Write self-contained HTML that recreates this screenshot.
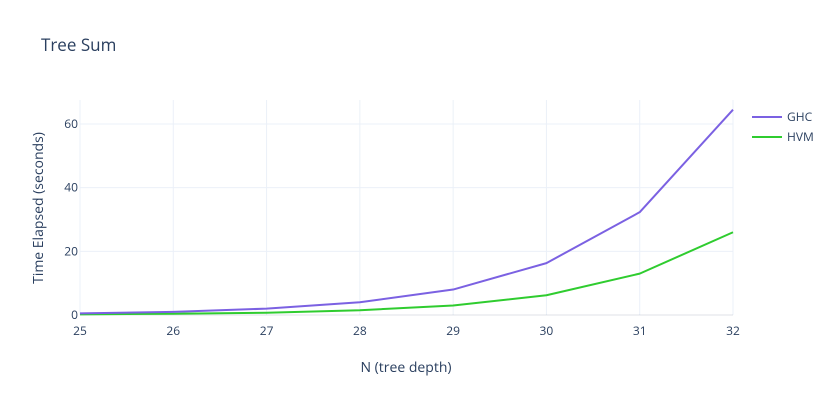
<!DOCTYPE html>
<html><head><meta charset="utf-8"><style>
body{margin:0;background:#fff;font-family:"Liberation Sans","DejaVu Sans",sans-serif;}
svg text{font-family:"Open Sans","Liberation Sans",sans-serif;fill:#2a3f5f;}
</style></head><body>
<svg id="chart" width="830" height="400">
<rect width="830" height="400" fill="#fff"/>
<text x="41" y="51" font-size="17">Tree Sum</text>
<g id="grid"></g>
<g id="marks"></g>
<g id="ticks"></g>
<text x="406" y="372" font-size="14" text-anchor="middle">N (tree depth)</text>
<text transform="translate(43,208) rotate(-90)" font-size="14" text-anchor="middle">Time Elapsed (seconds)</text>
<g>
<g><line x1="752" y1="117" x2="782" y2="117" stroke="#7b61e2" stroke-width="2"/><text x="787" y="121" font-size="12">GHC</text></g>
<g><line x1="752" y1="137" x2="782" y2="137" stroke="#2fcc2f" stroke-width="2"/><text x="787" y="141" font-size="12">HVM</text></g>
</g>
</svg>
<script>
const categories=[25,26,27,28,29,30,31,32];
const ghcValues=[0.5,1,2,4,8,16.3,32.3,64.5];
const hvmValues=[0.2,0.4,0.7,1.5,3,6.2,13,26];
const yTicks=[0,20,40,60];
const NS="http://www.w3.org/2000/svg";
const xs=v=>80+(v-25)*(733-80)/7;
const ys=v=>315-v*(315-124)/60;
function mk(tag,attrs,parent,text){const e=document.createElementNS(NS,tag);for(const k in attrs)e.setAttribute(k,attrs[k]);if(text!==undefined)e.textContent=text;document.getElementById(parent).appendChild(e);return e;}
categories.forEach(c=>{
 const g=mk('line',{x1:xs(c),x2:xs(c),y1:100,y2:315,stroke:'#ebf0f8'},'grid');
 
 
 const t=mk('text',{x:xs(c),y:335,'font-size':12,'text-anchor':'middle'},'ticks',String(c));
 
 
});
yTicks.forEach(v=>{
 const g=mk('line',{x1:80,x2:733,y1:ys(v),y2:ys(v),stroke:v===0?'#2a3f5f':'#ebf0f8','stroke-width':v===0?1:1,'stroke-opacity':v===0?0.15:1},'grid');
 
 
 const t=mk('text',{x:78,y:ys(v)+4,'font-size':12,'text-anchor':'end'},'ticks',String(v));
 
 
});
function line(vals,color,name){
 const p=mk('polyline',{points:vals.map((v,i)=>xs(categories[i])+','+ys(v)).join(' '),fill:'none',stroke:color,'stroke-width':2,'stroke-linejoin':'round'},'marks');
 
 
}
line(hvmValues,'#2fcc2f','hvm-line');
line(ghcValues,'#7b61e2','ghc-line');
</script>
</body></html>
